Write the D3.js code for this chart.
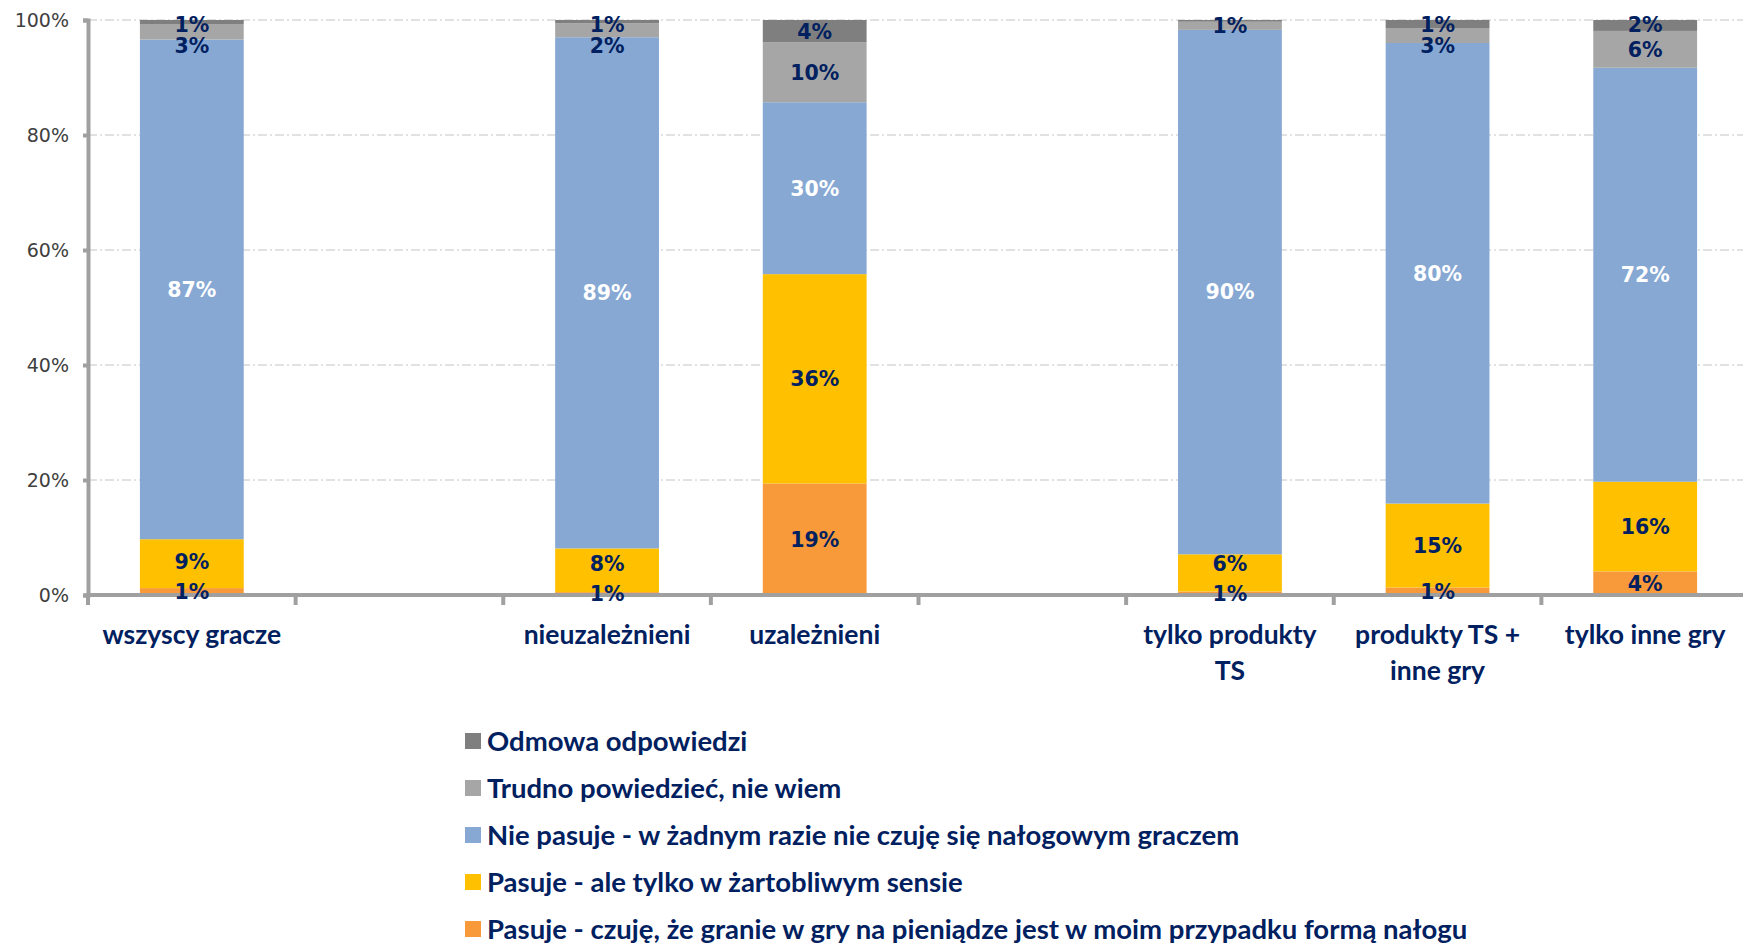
<!DOCTYPE html>
<html>
<head>
<meta charset="utf-8">
<script src="https://cdn.jsdelivr.net/npm/d3@7"></script>
<style>
  body { margin: 0; background: #fff; }
  svg { display: block; }
</style>
</head>
<body>
<div id="chart"></div>
<script>
// kategorie (puste = przerwa miedzy grupami)
const categories = ["wszyscy gracze", "", "nieuzależnieni", "uzależnieni", "", "tylko produkty\nTS", "produkty TS +\ninne gry", "tylko inne gry"];

// serie, od dolu do gory stosu
const seriesNames = [
    "Pasuje - czuję, że granie w gry na pieniądze jest w moim przypadku formą nałogu",
    "Pasuje - ale tylko w żartobliwym sensie",
    "Nie pasuje - w żadnym razie nie czuję się nałogowym graczem",
    "Trudno powiedzieć, nie wiem",
    "Odmowa odpowiedzi"
];
const seriesColors = ["#F99A3A", "#FFC000", "#86A8D3", "#A6A6A6", "#7F7F7F"];

const naloguVals   = [1.2, 0, 0.5, 19.4, 0, 0.6, 1.3, 4.1];
const zartVals     = [8.5, 0, 7.6, 36.4, 0, 6.4, 14.6, 15.6];
const niePasVals   = [86.9, 0, 88.9, 29.9, 0, 90.2, 80.1, 72.0];
const trudnoVals   = [2.7, 0, 2.4, 10.4, 0, 1.4, 2.6, 6.4];
const odmowaVals   = [0.7, 0, 0.6, 3.9, 0, 0.3, 1.4, 1.9];

const yTicks = [0, 0.2, 0.4, 0.6, 0.8, 1];

const width = 1743, height = 945;
const margin = { top: 20, left: 88 };
const plotW = 1661, plotH = 575;
const navy = "#002060";
const axisGray = "#A0A0A0";

const svg = d3.select("#chart").append("svg")
    .attr("width", width)
    .attr("height", height);

const allVals = [naloguVals, zartVals, niePasVals, trudnoVals, odmowaVals];
const keys = d3.range(seriesNames.length);
const rows = categories.map((c, i) => {
    const r = { idx: i };
    keys.forEach(k => r[k] = allVals[k][i]);
    return r;
});

const stacked = d3.stack().keys(keys).offset(d3.stackOffsetExpand)(rows);

const x = d3.scaleBand()
    .domain(d3.range(categories.length))
    .range([margin.left, margin.left + plotW])
    .paddingInner(0.5)
    .paddingOuter(0.25);
const step = x.step();

const y = d3.scaleLinear().domain([0, 1]).range([margin.top + plotH, margin.top]);

// siatka
svg.append("g")
    .selectAll("line")
    .data(yTicks.filter(t => t > 0))
    .enter()
    .append("line")
    .attr("x1", margin.left)
    .attr("x2", width)
    .attr("y1", d => y(d))
    .attr("y2", d => y(d))
    .style("stroke", "#C4C4C4")
    .style("stroke-width", 1)
    .style("stroke-dasharray", "9,3,2,3");

// slupki
svg.append("g")
    .selectAll("g")
    .data(stacked)
    .enter()
    .append("g")
    .style("fill", (d, i) => seriesColors[i])
    .selectAll("rect")
    .data(d => d.filter(p => p.data[d.key] > 0))
    .enter()
    .append("rect")
    .attr("x", d => x(d.data.idx))
    .attr("width", x.bandwidth())
    .attr("y", d => y(d[1]))
    .attr("height", d => y(d[0]) - y(d[1]));

// os Y
const yAxis = svg.append("g")
    .attr("transform", `translate(${margin.left},0)`)
    .call(d3.axisLeft(y).tickValues(yTicks).tickFormat(d3.format(".0%")).tickSize(5).tickPadding(14));
yAxis.select(".domain").style("stroke", axisGray).style("stroke-width", 4);
yAxis.selectAll(".tick line").style("stroke", axisGray).style("stroke-width", 4);
yAxis.selectAll(".tick text")
    .style("font-family", "'DejaVu Sans', Verdana, sans-serif")
    .style("font-size", "19px")
    .style("fill", "#404040");

// os X
const baseY = y(0);
svg.append("line")
    .attr("x1", margin.left - 2)
    .attr("x2", width)
    .attr("y1", baseY)
    .attr("y2", baseY)
    .style("stroke", axisGray)
    .style("stroke-width", 4);
svg.append("g")
    .selectAll("line")
    .data(d3.range(categories.length + 1))
    .enter()
    .append("line")
    .attr("x1", i => margin.left + i * step)
    .attr("x2", i => margin.left + i * step)
    .attr("y1", baseY)
    .attr("y2", baseY + 10)
    .style("stroke", axisGray)
    .style("stroke-width", 4);

// etykiety kategorii
const catG = svg.append("g");
categories.forEach((c, i) => {
    if (!c) return;
    const t = catG.append("text")
        .attr("x", x(i) + x.bandwidth() / 2)
        .attr("y", 635)
        .attr("text-anchor", "middle")
        .style("font-family", "Lato, 'Open Sans', sans-serif")
        .style("font-weight", "bold")
        .style("font-size", "26.5px")
        .style("fill", navy);
    c.split("\n").forEach((line, j) => {
        t.append("tspan")
            .attr("x", x(i) + x.bandwidth() / 2)
            .attr("dy", j === 0 ? "0.35em" : 36)
            .text(line);
    });
});

// etykiety wartosci (z rozsuwaniem kolizji)
const labelG = svg.append("g");
categories.forEach((c, i) => {
    let labs = [];
    stacked.forEach((s, k) => {
        const v = allVals[k][i];
        if (v < 0.5) return;
        const p = s[i];
        labs.push({ k: k, v: v, cy: (y(p[0]) + y(p[1])) / 2 });
    });
    if (!labs.length) return;
    // od dolu do gory
    for (let j = 1; j < labs.length; j++) {
        if (labs[j - 1].cy - labs[j].cy < 30) labs[j].cy = labs[j - 1].cy - 30;
    }
    // od gory do dolu
    const top = labs.length - 1;
    if (labs[top].cy < margin.top + 5) labs[top].cy = margin.top + 5;
    for (let j = top - 1; j >= 0; j--) {
        if (labs[j].cy - labs[j + 1].cy < 21) labs[j].cy = labs[j + 1].cy + 21;
    }
    labs.forEach(l => {
        labelG.append("text")
            .attr("x", x(i) + x.bandwidth() / 2)
            .attr("y", l.cy)
            .attr("dy", "0.36em")
            .attr("text-anchor", "middle")
            .style("font-family", "'DejaVu Sans', Verdana, sans-serif")
            .style("font-weight", "bold")
            .style("font-size", "20.5px")
            .style("fill", l.k === 2 ? "#fff" : navy)
            .text(Math.round(l.v) + "%");
    });
});

// legenda (odwrocona kolejnosc)
const legendOrder = keys.slice().reverse();
const legend = svg.append("g")
    .selectAll("g")
    .data(legendOrder)
    .enter()
    .append("g")
    .attr("transform", (d, i) => `translate(465,${741 + i * 47})`);
legend.append("rect")
    .attr("x", 0)
    .attr("y", -8)
    .attr("width", 16)
    .attr("height", 16)
    .style("fill", d => seriesColors[d]);
legend.append("text")
    .attr("x", 22)
    .attr("y", 0)
    .attr("dy", "0.35em")
    .style("font-family", "Lato, 'Open Sans', sans-serif")
    .style("font-weight", "bold")
    .style("font-size", "27.5px")
    .style("fill", navy)
    .text(d => seriesNames[d]);
</script>
</body>
</html>
